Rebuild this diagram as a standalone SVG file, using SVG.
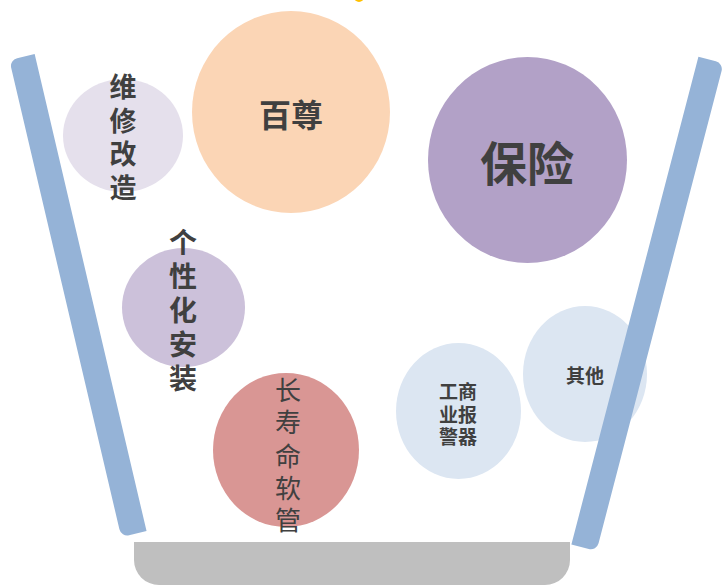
<svg xmlns="http://www.w3.org/2000/svg" width="723" height="585" viewBox="0 0 723 585">
<style>
.t{font-family:"Noto Sans CJK SC","Noto Sans",sans-serif;fill:#404040;text-anchor:middle;dominant-baseline:central}
.b{font-weight:bold}
.bar{fill:#95B3D7}
</style>
<rect width="723" height="585" fill="#ffffff"/>
<circle cx="359" cy="-3" r="5" fill="#FFC000"/>
<g id="bucket-left">
<path class="bar" transform="translate(22,57) rotate(-13.2)" d="M-13,8 A8,8 0 0 1 -5,0 H13 V490 H-5 A8,8 0 0 1 -13,482 Z"/>
</g>
<g id="base">
<path d="M134,542 H570 V560 A25,25 0 0 1 545,585 H159 A25,25 0 0 1 134,560 Z" fill="#BFBFBF"/>
</g>
<g id="node-weixiu">
<ellipse cx="123" cy="135.5" rx="60" ry="56.5" fill="#E5E0EC"/>
<text class="t b" font-size="27"><tspan x="123" y="85">维</tspan><tspan x="123" y="119">修</tspan><tspan x="123" y="152">改</tspan><tspan x="123" y="186">造</tspan></text>
</g>
<g id="node-baizun">
<ellipse cx="291" cy="112" rx="99" ry="101" fill="#FBD5B5"/>
<text class="t b" font-size="32" x="291" y="113">百尊</text>
</g>
<g id="node-baoxian">
<ellipse cx="527.5" cy="160" rx="99.5" ry="103" fill="#B2A1C7"/>
<text class="t b" font-size="47" x="527" y="160">保险</text>
</g>
<g id="node-gexinghua">
<ellipse cx="183.5" cy="307.5" rx="61.5" ry="59.5" fill="#CCC1DA"/>
<text class="t b" font-size="28"><tspan x="183" y="241">个</tspan><tspan x="183" y="275">性</tspan><tspan x="183" y="309">化</tspan><tspan x="183" y="343">安</tspan><tspan x="183" y="377">装</tspan></text>
</g>
<g id="node-changshou">
<ellipse cx="286" cy="450" rx="73" ry="77" fill="#D99694"/>
<text class="t" font-size="26"><tspan x="288" y="388">长</tspan><tspan x="288" y="420">寿</tspan><tspan x="288" y="454">命</tspan><tspan x="288" y="486">软</tspan><tspan x="288" y="518">管</tspan></text>
</g>
<g id="node-baojing">
<ellipse cx="458.5" cy="411" rx="62.5" ry="68" fill="#DCE6F2"/>
<text class="t b" font-size="19"><tspan x="458" y="390">工商</tspan><tspan x="458" y="413">业报</tspan><tspan x="458" y="435">警器</tspan></text>
</g>
<g id="node-qita">
<ellipse cx="585" cy="374" rx="62" ry="68" fill="#DCE6F2"/>
<text class="t b" font-size="19" x="585" y="374">其他</text>
</g>
<g id="bucket-right">
<path class="bar" transform="translate(711,60) rotate(14.6)" d="M-13,0 H5 A8,8 0 0 1 13,8 V496 A8,8 0 0 1 5,504 H-13 Z"/>
</g>
<g id="connectors"></g>
</svg>
